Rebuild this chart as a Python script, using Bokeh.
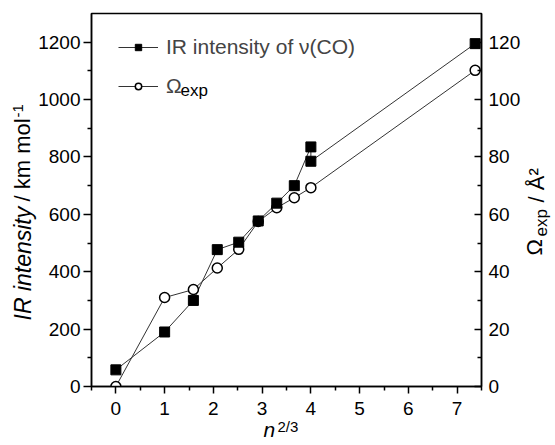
from math import pi
from bokeh.plotting import figure
from bokeh.models import Range1d, LinearAxis, FixedTicker, Legend, LegendItem, Label
from bokeh.embed import file_html
from bokeh.resources import INLINE

# ---- data ----
n23_ir = [0.0, 1.0, 1.59, 2.08, 2.52, 2.92, 3.30, 3.66, 4.00, 4.00, 7.37]
ir_intensity = [58, 190, 300, 477, 503, 577, 639, 700, 835, 785, 1195]
n23_om = [0.0, 1.0, 1.59, 2.08, 2.52, 2.92, 3.30, 3.66, 4.00, 7.37]
omega_exp = [0.0, 31.0, 33.8, 41.3, 47.8, 57.5, 62.3, 65.8, 69.3, 110.2]

x_ticks = [0, 1, 2, 3, 4, 5, 6, 7]
x_minor = [-0.5, 0.5, 1.5, 2.5, 3.5, 4.5, 5.5, 6.5, 7.5]
yl_ticks = [0, 200, 400, 600, 800, 1000, 1200]
yl_minor = [100, 300, 500, 700, 900, 1100]
yr_ticks = [0, 20, 40, 60, 80, 100, 120]
yr_minor = [10, 30, 50, 70, 90, 110]

FONT = "Liberation Sans"

p = figure(frame_width=390, frame_height=373,
           min_border_left=91, min_border_right=74, min_border_top=13, min_border_bottom=59,
           x_range=Range1d(-0.5, 7.5), y_range=Range1d(0, 1300),
           output_backend="svg", toolbar_location=None,
           background_fill_color="white", border_fill_color="white")
p.extra_y_ranges = {"om": Range1d(0, 130)}
p.grid.visible = False
p.outline_line_color = "black"
p.outline_line_width = 1.5

def style_axis(ax, shrink):
    ax.axis_line_width = 1.5
    ax.axis_line_color = "black"
    ax.major_tick_line_width = 1.5
    ax.minor_tick_line_width = 1.5
    ax.major_tick_line_color = "black"
    ax.minor_tick_line_color = "black"
    ax.major_label_text_font = FONT
    ax.major_label_text_font_size = "19px"
    ax.major_label_text_color = "black"
    # invisible placeholder label; negative standoff leaves room for the rich label pieces
    ax.axis_label = " "
    ax.axis_label_text_font_size = "1px"
    ax.axis_label_standoff = shrink

xa = p.xaxis[0]
xa.ticker = FixedTicker(ticks=x_ticks, minor_ticks=x_minor)
style_axis(xa, -34)
xa.major_tick_out = 7
xa.major_tick_in = 0
xa.minor_tick_out = 4
xa.minor_tick_in = 0
xa.major_label_standoff = 8

ya = p.yaxis[0]
ya.ticker = FixedTicker(ticks=yl_ticks, minor_ticks=yl_minor)
style_axis(ya, -40)
ya.major_tick_out = 8
ya.major_tick_in = 0
ya.minor_tick_out = 4
ya.minor_tick_in = 0
ya.major_label_standoff = 3

ra = LinearAxis(y_range_name="om", ticker=FixedTicker(ticks=yr_ticks, minor_ticks=yr_minor))
style_axis(ra, -40)
ra.major_tick_out = 0
ra.major_tick_in = 7
ra.minor_tick_out = 0
ra.minor_tick_in = 4
ra.major_label_standoff = 7
p.add_layout(ra, "right")

l1 = p.line(n23_ir, ir_intensity, line_color="#333333", line_width=1)
l2 = p.line(n23_om, omega_exp, y_range_name="om", line_color="#333333", line_width=1)
s2 = p.scatter(n23_om, omega_exp, y_range_name="om", marker="circle", size=10,
               fill_color="white", line_color="black", line_width=1.5)
s1 = p.scatter(n23_ir, ir_intensity, marker="square", size=10,
               fill_color="black", line_color="black", line_width=1)

legend = Legend(items=[LegendItem(label="IR intensity of \u03bd(CO)", renderers=[l1, s1]),
                       LegendItem(label="\u03a9", renderers=[l2, s2])],
                location=(27, 288), glyph_width=40, glyph_height=16, label_height=20,
                spacing=15, padding=0, margin=0, border_line_color=None,
                background_fill_alpha=0, label_text_font=FONT, label_text_font_size="21px",
                label_standoff=8)
p.add_layout(legend)

def lab(text, x, y, size, style="normal", angle=0.0, baseline="middle", place=None):
    lb = Label(x=x, y=y, x_units="screen", y_units="screen", text=text,
               angle=angle, text_font=FONT, text_font_size=size,
               text_font_style=style, text_align="left", text_baseline=baseline,
               text_color="black")
    if place is None:
        p.add_layout(lb)
    else:
        p.add_layout(lb, place)

# legend subscript (inside the frame)
lab("exp", 89, 296, "17px", baseline="alphabetic")

# left axis label
lab("IR intensity", -23, 66, "23px", "italic", pi / 2, place="left")
lab("/ km mol", 2, 185, "22px", "normal", pi / 2, place="left")
lab("-1", 7, 269, "15px", "normal", pi / 2, place="left")

# right axis label
lab("\u03a9", 47, 131, "22px", "normal", pi / 2, place="right")
lab("exp", 29, 150, "17px", "normal", pi / 2, place="right")
lab("/ \u00c5\u00b2", 5, 184, "22px", "normal", pi / 2, place="right")

# bottom axis label
lab("n", 172, -19, "21px", "italic", 0.0, "alphabetic", place="below")
lab("2/3", 186, 1, "15px", "normal", 0.0, "alphabetic", place="below")

open("out.html", "w").write(file_html(p, INLINE))
